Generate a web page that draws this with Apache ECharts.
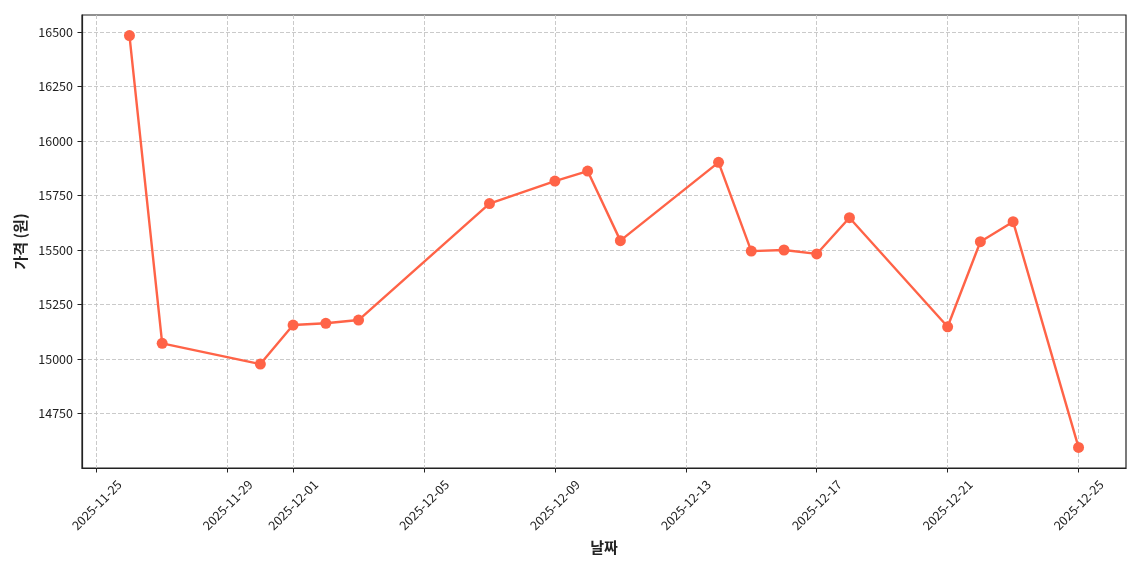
<!DOCTYPE html>
<html>
<head>
<meta charset="utf-8">
<script src="https://cdn.jsdelivr.net/npm/echarts@6/dist/echarts.min.js"></script>
<style>
html,body{margin:0;padding:0;background:#fff;}
#chart{width:1140px;height:570px;}
</style>
</head>
<body>
<div id="chart"></div>
<script>
const dates = ['2025-11-26','2025-11-27','2025-11-30','2025-12-01','2025-12-02','2025-12-03','2025-12-07','2025-12-09','2025-12-10','2025-12-11','2025-12-14','2025-12-15','2025-12-16','2025-12-17','2025-12-18','2025-12-21','2025-12-22','2025-12-23','2025-12-25'];
const prices = [16483,15072,14977,15156,15164,15179,15713,15816,15862,15543,15902,15495,15500,15482,15648,15148,15538,15630,14595];
const xTickDates = ['2025-11-25','2025-11-29','2025-12-01','2025-12-05','2025-12-09','2025-12-13','2025-12-17','2025-12-21','2025-12-25'];
const yTicks = [14750,15000,15250,15500,15750,16000,16250,16500];
const xTitle = '날짜';
const yTitle = '가격 (원)';

function ts(s){ const p = s.split('-').map(Number); return new Date(p[0], p[1]-1, p[2]).getTime(); }
function fmt(v){ const d = new Date(Math.round(v)); const m = d.getMonth()+1, dd = d.getDate(); return d.getFullYear()+'-'+(m<10?'0':'')+m+'-'+(dd<10?'0':'')+dd; }

const xs = dates.map(ts);
const span = xs[xs.length-1]-xs[0];
const xMin = xs[0] - span*0.05, xMax = xs[xs.length-1] + span*0.05;
const yLo = Math.min(...prices), yHi = Math.max(...prices);
const yMin = yLo - (yHi-yLo)*0.05, yMax = yHi + (yHi-yLo)*0.05;

const font = '"Noto Sans CJK KR", "Noto Sans", sans-serif';
const chart = echarts.init(document.getElementById('chart'), null, {renderer:'canvas'});
chart.setOption({
  animation:false,
  backgroundColor:'#fff',
  grid:{left:82, right:14, top:15, bottom:102, show:true, borderColor:'#222', borderWidth:1.2, backgroundColor:'transparent'},
  xAxis:{
    type:'value', min:xMin, max:xMax, scale:true,
    name:xTitle, nameLocation:'middle', nameGap:72,
    nameTextStyle:{fontFamily:font, fontSize:15, fontWeight:'bold', color:'#222'},
    axisLine:{show:true, onZero:false, lineStyle:{color:'#222', width:1.2}},
    axisTick:{show:true, length:4.5, inside:false, lineStyle:{color:'#222', width:1}, customValues:xTickDates.map(ts)},
    axisLabel:{customValues:xTickDates.map(ts), formatter:function(v){return fmt(v);}, rotate:45, align:'center', verticalAlign:'middle', margin:37, fontFamily:font, fontSize:12.5, color:'#222', hideOverlap:false, showMinLabel:true, showMaxLabel:true},
    splitLine:{show:true, lineStyle:{color:'#c4c4c4', type:[4,2], width:0.9}}
  },
  yAxis:{
    type:'value', min:yMin, max:yMax, scale:true,
    name:yTitle, nameLocation:'middle', nameGap:54, nameRotate:90,
    nameTextStyle:{fontFamily:font, fontSize:15, fontWeight:'bold', color:'#222'},
    axisLine:{show:true, onZero:false, lineStyle:{color:'#222', width:1.2}},
    axisTick:{show:true, length:4.5, lineStyle:{color:'#222', width:1}, customValues:yTicks},
    axisLabel:{customValues:yTicks, formatter:function(v){return String(v);}, margin:9, fontFamily:font, fontSize:12.5, color:'#222'},
    splitLine:{show:true, lineStyle:{color:'#c4c4c4', type:[4,2], width:0.9}}
  },
  series:[{
    type:'line',
    data:xs.map((x,i)=>[x, prices[i]]),
    symbol:'circle', symbolSize:11, showAllSymbol:true,
    lineStyle:{color:'#ff6347', width:2.4},
    itemStyle:{color:'#ff6347'},
    clip:false
  }]
});
</script>
</body>
</html>
